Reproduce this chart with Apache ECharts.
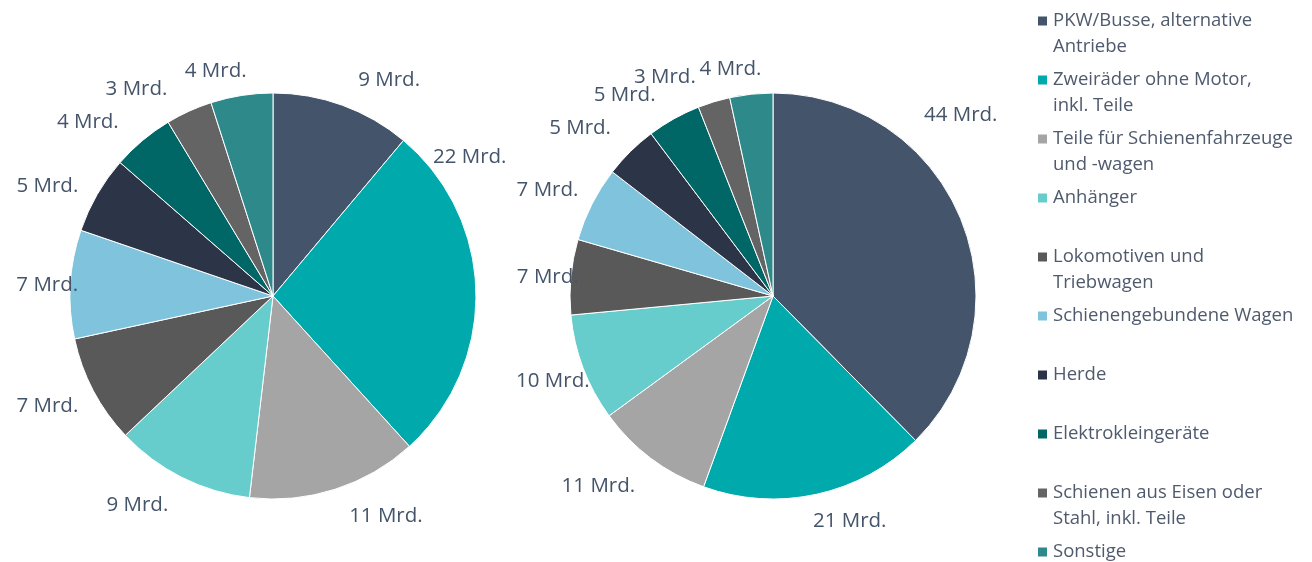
<!DOCTYPE html>
<html>
<head>
<meta charset="utf-8">
<script src="https://cdn.jsdelivr.net/npm/echarts@6/dist/echarts.min.js"></script>
<style>
html,body{margin:0;padding:0;background:#fff;}
#chart{width:1312px;height:562px;}
</style>
</head>
<body>
<div id="chart"></div>
<script>
// ---- data ----
var categories = [
  "PKW/Busse, alternative\nAntriebe",
  "Zweiräder ohne Motor,\ninkl. Teile",
  "Teile für Schienenfahrzeuge\nund -wagen",
  "Anhänger",
  "Lokomotiven und\nTriebwagen",
  "Schienengebundene Wagen",
  "Herde",
  "Elektrokleingeräte",
  "Schienen aus Eisen oder\nStahl, inkl. Teile",
  "Sonstige"
];
var valuesLeft = [9, 22, 11, 9, 7, 7, 5, 4, 3, 4];
var valuesRight = [44, 21, 11, 10, 7, 7, 5, 5, 3, 4];
var unit = " Mrd.";

// ---- styling / label placement (layout, not data) ----
var colors = ["#44546A", "#00A9AB", "#A5A5A5", "#66CCCC", "#595959", "#7FC3DC", "#2B3547", "#006666", "#646464", "#2E8A8A"];
// label direction (degrees clockwise from 12 o'clock) and distance from pie centre
var labelAngleLeft = [28.3, 54.7, 152.8, 213.0, 244.0, 272.8, 296.0, 313.2, 326.6, 345.7];
var labelDistLeft = [245, 241, 247, 249, 251, 226, 251, 254, 248, 232];
var labelAngleRight = [46.0, 161.2, 222.6, 248.9, 274.7, 295.1, 311.1, 323.6, 333.7, 349.4];
var labelDistRight = [261, 238, 258, 236, 226, 249, 256, 250, 244, 231];

var FONT = "'Open Sans', sans-serif";
var labelColor = "#44546A";
var legendColor = "#4F5A6D";
var PIE_R = 203, PIE_CY = 296;

function buildData(vals) {
  return categories.map(function (c, i) { return { name: c, value: vals[i] }; });
}

function pieSeries(vals, cx, angles, dists) {
  return {
    type: 'pie',
    center: [cx, PIE_CY],
    radius: PIE_R,
    startAngle: 90,
    clockwise: true,
    avoidLabelOverlap: false,
    data: buildData(vals),
    itemStyle: { borderColor: '#ffffff', borderWidth: 1 },
    label: {
      show: true,
      position: 'outside',
      width: 120,
      align: 'center',
      formatter: function (p) { return p.value + unit; },
      color: labelColor,
      fontFamily: FONT,
      fontSize: 20.5
    },
    labelLine: { show: false, length: 8, length2: 0 },
    labelLayout: function (p) {
      var a = angles[p.dataIndex] * Math.PI / 180, d = dists[p.dataIndex];
      return {
        x: cx + d * Math.sin(a),
        y: PIE_CY - d * Math.cos(a),
        align: 'center',
        verticalAlign: 'middle',
        hideOverlap: false
      };
    },
    emphasis: { disabled: true }
  };
}

var legends = categories.map(function (c, i) {
  var twoLine = c.indexOf('\n') >= 0;
  var iconCenter = 21 + 59 * i;
  return {
    left: 1036,
    top: iconCenter - (twoLine ? 39 : 13),
    orient: 'vertical',
    padding: 0,
    itemWidth: 11,
    itemHeight: 11,
    icon: 'rect',
    selectedMode: false,
    // two-line names get an empty first line so the marker sits beside the first text line
    formatter: function (name) { return name.indexOf('\n') >= 0 ? ' \n' + name : name; },
    textStyle: { fontFamily: FONT, fontSize: 18.5, lineHeight: 26, color: legendColor },
    data: [c]
  };
});

var chart = echarts.init(document.getElementById('chart'), null, { renderer: 'canvas' });
chart.setOption({
  animation: false,
  color: colors,
  legend: legends,
  series: [
    pieSeries(valuesLeft, 273, labelAngleLeft, labelDistLeft),
    pieSeries(valuesRight, 773, labelAngleRight, labelDistRight)
  ]
});
</script>
</body>
</html>
